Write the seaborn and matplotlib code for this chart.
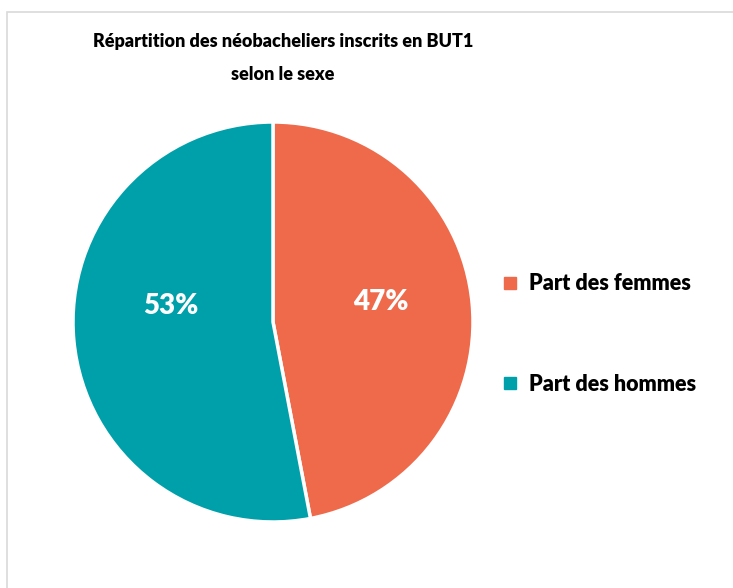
import matplotlib.pyplot as plt
from matplotlib.lines import Line2D
from matplotlib.patches import Rectangle
import seaborn as sns

# Data
categories = ['Part des femmes', 'Part des hommes']
shares = [47, 53]
colors = ['#EE6A4B', '#00A0AA']
title = 'Répartition des néobacheliers inscrits en BUT1\nselon le sexe'

sns.set_theme(style='white')
plt.rcParams['font.family'] = ['Lato', 'DejaVu Sans']

W, H = 733, 588
fig = plt.figure(figsize=(W / 100, H / 100), dpi=100)

# chart frame (only top and left edges visible)
fig.patches.append(Rectangle((7 / W, -0.1), 1.2, (H - 12) / H + 0.1,
                             transform=fig.transFigure, fill=False,
                             edgecolor='#D9D9D9', linewidth=1.2))

ax = fig.add_axes([73 / W, (H - 522) / H, 400 / W, 400 / H])
wedges, _ = ax.pie(shares, colors=colors, startangle=90, counterclock=False,
                   wedgeprops={'edgecolor': 'white', 'linewidth': 2.5})
ax.set_xlim(-1, 1)
ax.set_ylim(-1, 1)
ax.set_aspect('equal')

# percentage labels
label_pos = [(0.54, 0.10), (-0.51, 0.08)]
for (x, y), v in zip(label_pos, shares):
    ax.text(x, y, f'{v}%', color='white', fontsize=20, fontweight='heavy',
            ha='center', va='center')

fig.text(283 / W, 1 - 58 / H, title, ha='center', va='center', fontsize=13,
         fontweight='heavy', linespacing=2.2, color='black')

handles = [Line2D([], [], marker='s', linestyle='none', markersize=8,
                  markerfacecolor=c, markeredgecolor=c) for c in colors]
fig.legend(handles, categories, loc='center left',
           bbox_to_anchor=(482 / W, 1 - 334 / H), frameon=False,
           prop={'size': 15.5, 'weight': 'heavy'}, labelspacing=3.7,
           handlelength=0.8, handletextpad=0.5, labelcolor='black')

plt.savefig('out.png', dpi=100)
plt.close()
